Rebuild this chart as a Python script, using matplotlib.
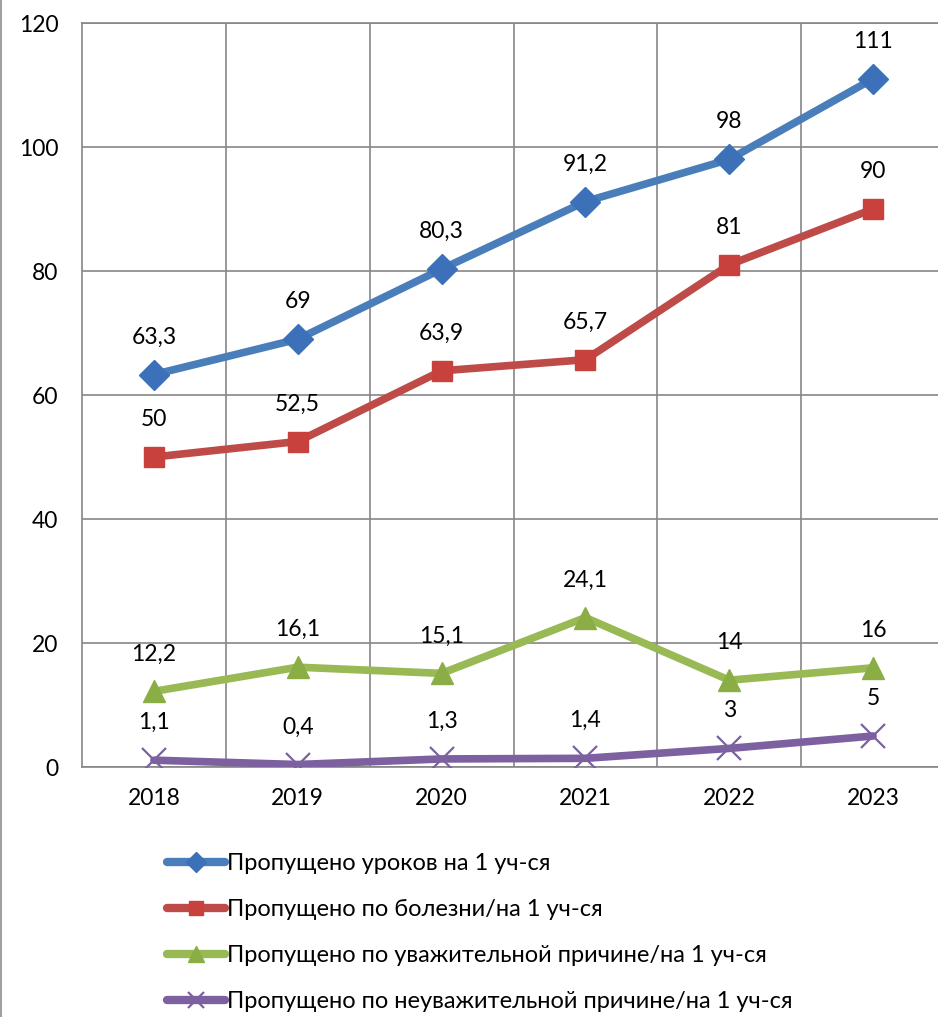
import matplotlib.pyplot as plt
from matplotlib.lines import Line2D

plt.rcParams['font.family'] = ['Lato', 'DejaVu Sans']

# Data
years = ['2018', '2019', '2020', '2021', '2022', '2023']
lessons = [63.3, 69, 80.3, 91.2, 98, 111]
illness = [50, 52.5, 63.9, 65.7, 81, 90]
excused = [12.2, 16.1, 15.1, 24.1, 14, 16]
unexcused = [1.1, 0.4, 1.3, 1.4, 3, 5]

series = [
    ('Пропущено уроков на 1 уч-ся', lessons, '#4A7EBB', 'D', '#3C70B8', 15),
    ('Пропущено по болезни/на 1 уч-ся', illness, '#BE4B48', 's', '#C8413D', 15),
    ('Пропущено по уважительной причине/на 1 уч-ся', excused, '#98B954', '^', '#8AAE45', 16),
    ('Пропущено по неуважительной причине/на 1 уч-ся', unexcused, '#7D60A0', 'x', '#7D60A0', 17),
]

fig = plt.figure(figsize=(9.38, 10.17), dpi=100)
ax = fig.add_axes([82 / 938, 1 - 767 / 1017, (945 - 82) / 938, (767 - 23) / 1017])

x = list(range(len(years)))
handles = []
for name, vals, color, marker, mcolor, ms in series:
    ax.plot(x, vals, color=color, linewidth=5.5, solid_capstyle='round', zorder=3)
    if marker == 'x':
        ax.plot(x, vals, linestyle='none', marker='x', markersize=ms,
                markeredgewidth=1.6, color=mcolor, zorder=4)
    else:
        ax.plot(x, vals, linestyle='none', marker=marker, markersize=ms,
                markerfacecolor=mcolor, markeredgecolor=mcolor, zorder=4)
    for xi, v in zip(x, vals):
        lbl = f'{v:g}'.replace('.', ',')
        ax.annotate(lbl, (xi, v), xytext=(0, 27), textcoords='offset points',
                    ha='center', va='center', fontsize=16.5, color='black', zorder=5)
    handles.append(Line2D([0], [0], color=color, linewidth=6, marker=marker,
                          markersize=ms * 0.7, markerfacecolor=mcolor,
                          markeredgecolor=mcolor, markeredgewidth=1.6 if marker == 'x' else 1,
                          solid_capstyle='round', label=name))

ax.set_xlim(-0.5, 5.5)
ax.set_ylim(0, 120)
ax.set_xticks(x)
ax.set_xticklabels(years)
ax.set_xticks([i + 0.5 for i in range(6)], minor=True)
ax.set_yticks(range(0, 121, 20))
ax.tick_params(axis='both', which='both', length=0, labelsize=16.5)
ax.tick_params(axis='x', pad=15)
ax.tick_params(axis='y', pad=17)
ax.grid(True, axis='y', color='#868686', linewidth=1.2)
ax.grid(True, axis='x', which='minor', color='#868686', linewidth=1.2)
ax.set_axisbelow(True)
for side in ['left', 'bottom', 'top', 'right']:
    ax.spines[side].set_color('#868686')
    ax.spines[side].set_linewidth(1.2)

fig.legend(handles=handles, loc='upper left', bbox_to_anchor=(158 / 938, 1 - 844 / 1017),
           frameon=False, fontsize=17, handlelength=2.45, handletextpad=0.08,
           labelspacing=1.05, borderaxespad=0)

# outer frame line at the left edge
fig.add_artist(Line2D([0.5 / 938, 0.5 / 938], [0, 1], color='#A0A0A0', linewidth=1.5))

fig.savefig('out.png', dpi=100)
